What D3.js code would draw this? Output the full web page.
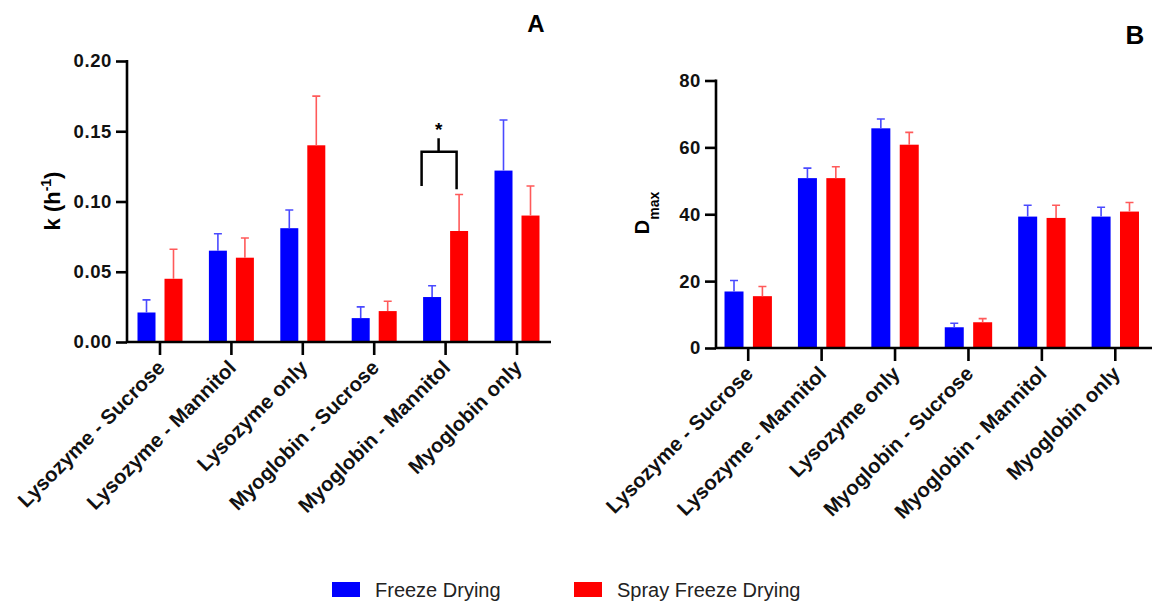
<!DOCTYPE html>
<html>
<head>
<meta charset="utf-8">
<script src="https://cdn.jsdelivr.net/npm/d3@7"></script>
<style>
    body { margin: 0; background: #fff; }
    text { font-family: "Liberation Sans", Arial, sans-serif; }
</style>
</head>
<body>
<div id="container"></div>
<script>
const categories = ["Lysozyme - Sucrose", "Lysozyme - Mannitol", "Lysozyme only",
    "Myoglobin - Sucrose", "Myoglobin - Mannitol", "Myoglobin only"];
const seriesNames = ["Freeze Drying", "Spray Freeze Drying"];
const seriesColors = ["#0000ff", "#ff0000"];
const errColors = ["#4a4aff", "#ff5a5a"];

// panel A: rate constant k (h-1)
const kFD = [0.021, 0.065, 0.081, 0.017, 0.032, 0.122];
const kFDerr = [0.009, 0.012, 0.013, 0.008, 0.008, 0.036];
const kSFD = [0.045, 0.060, 0.140, 0.022, 0.079, 0.090];
const kSFDerr = [0.021, 0.014, 0.035, 0.007, 0.026, 0.021];
const kTicks = [0, 0.05, 0.10, 0.15, 0.20];

// panel B: Dmax
const dFD = [16.9, 50.8, 65.7, 6.2, 39.3, 39.3];
const dFDerr = [3.3, 3.0, 2.8, 1.2, 3.4, 2.8];
const dSFD = [15.5, 50.8, 60.8, 7.7, 38.9, 40.8];
const dSFDerr = [2.9, 3.4, 3.7, 1.1, 3.8, 2.7];
const dTicks = [0, 20, 40, 60, 80];

// significance bracket on panel A
const sigGroup = "Myoglobin - Mannitol";
const sigLeft = 0.111, sigRight = 0.1087, sigTop = 0.1354, sigStem = 0.145;

function main() {
    const width = 1155, height = 607;
    const svg = d3.select("#container")
        .append("svg")
        .attr("width", width)
        .attr("height", height);
    svg.append("rect").attr("width", width).attr("height", height).attr("fill", "#fff");

    let xA = d3.scaleBand().domain(categories).range([124.3, 552.7]);
    let yA = d3.scaleLinear().domain([0, 0.2]).range([342, 61]);
    let gA = drawPanel(svg, xA, yA, [kFD, kSFD], [kFDerr, kSFDerr], kTicks, d3.format(".2f"), 127, 551, 13.5, 18);

    // y label A
    let la = gA.append("text")
        .attr("transform", "translate(60,201) rotate(-90)")
        .attr("text-anchor", "middle")
        .attr("font-size", 22)
        .attr("font-weight", "bold");
    la.append("tspan").text("k (h");
    la.append("tspan").attr("font-size", 14).attr("dy", -9).text("-1");
    la.append("tspan").attr("dy", 9).text(")");

    // significance bracket
    const cx = xA(sigGroup) + xA.bandwidth() / 2;
    gA.append("path")
        .attr("d", `M${cx - 24},${yA(sigLeft)}V${yA(sigTop)}H${cx + 11}V${yA(sigRight)}M${cx - 7},${yA(sigTop)}V${yA(sigStem)}`)
        .attr("fill", "none")
        .attr("stroke", "#000")
        .attr("stroke-width", 2.5);
    gA.append("text")
        .attr("x", cx - 7)
        .attr("y", yA(sigStem) - 2)
        .attr("text-anchor", "middle")
        .attr("font-size", 19)
        .attr("font-weight", "bold")
        .text("*");

    svg.append("text").attr("x", 536).attr("y", 32).attr("text-anchor", "middle")
        .attr("font-size", 24).attr("font-weight", "bold").text("A");

    let xB = d3.scaleBand().domain(categories).range([711.5, 1152]);
    let yB = d3.scaleLinear().domain([0, 80]).range([348, 80.5]);
    let gB = drawPanel(svg, xB, yB, [dFD, dSFD], [dFDerr, dSFDerr], dTicks, d3.format("d"), 716, 1152, 14.2, 19);

    let lb = gB.append("text")
        .attr("transform", "translate(649,213) rotate(-90)")
        .attr("text-anchor", "middle")
        .attr("font-size", 20)
        .attr("font-weight", "bold");
    lb.append("tspan").text("D");
    lb.append("tspan").attr("font-size", 14).attr("dy", 10).text("max");

    svg.append("text").attr("x", 1135).attr("y", 44).attr("text-anchor", "middle")
        .attr("font-size", 26).attr("font-weight", "bold").text("B");

    // legend
    const legendX = [332, 574];
    let lg = svg.append("g").attr("id", "legend");
    seriesNames.forEach((name, i) => {
        lg.append("rect")
            .attr("x", legendX[i])
            .attr("y", 582)
            .attr("width", 28)
            .attr("height", 15)
            .attr("fill", seriesColors[i]);
        lg.append("text")
            .attr("x", legendX[i] + 43)
            .attr("y", 597)
            .attr("font-size", 20)
            .attr("fill", "#222")
            .text(name);
    });
}

function drawPanel(svg, x, y, series, errs, ticks, fmt, x0, x1, offset, barW) {
    let g = svg.append("g");
    const y0 = y(0);
    const capW = 8;
    series.forEach((vals, s) => {
        const dx = s == 0 ? -offset : offset;
        let data = categories.map((c, i) => ({ c: c, v: vals[i], e: errs[s][i] }));
        let bars = g.append("g");
        bars.selectAll("rect")
            .data(data)
            .join("rect")
            .attr("x", d => x(d.c) + x.bandwidth() / 2 + dx - barW / 2)
            .attr("y", d => y(d.v))
            .attr("width", barW)
            .attr("height", d => y0 - y(d.v))
            .attr("fill", seriesColors[s]);
        bars.selectAll("path")
            .data(data)
            .join("path")
            .attr("d", d => {
                const cx = x(d.c) + x.bandwidth() / 2 + dx;
                return `M${cx},${y(d.v)}V${y(d.v + d.e)}M${cx - capW / 2},${y(d.v + d.e)}H${cx + capW / 2}`;
            })
            .attr("fill", "none")
            .attr("stroke", errColors[s])
            .attr("stroke-width", 1.6);
    });

    // axes
    let ya = g.append("g")
        .attr("transform", `translate(${x0},0)`)
        .call(d3.axisLeft(y).tickValues(ticks).tickFormat(fmt).tickSize(11).tickPadding(4));
    ya.select(".domain").attr("d", `M0,${y0 + 1}V${y(ticks[ticks.length - 1]) - 1}`);
    let xa = g.append("g")
        .attr("transform", `translate(0,${y0})`)
        .call(d3.axisBottom(x).tickSize(13).tickFormat(""));
    xa.select(".domain").attr("d", `M${x0 - 1},0H${x1}`);
    g.selectAll(".domain, .tick line").attr("stroke", "#000").attr("stroke-width", 2.6);
    ya.selectAll("text")
        .attr("font-size", 18.5)
        .attr("font-weight", "bold")
        .attr("font-family", "'Liberation Sans', Arial, sans-serif")
        .attr("letter-spacing", 0.6)
        .attr("fill", "#111");

    // rotated category labels
    g.append("g")
        .selectAll("text")
        .data(categories)
        .join("text")
        .attr("transform", d => `translate(${x(d) + x.bandwidth() / 2 + 6},${y0 + 27}) rotate(-45)`)
        .attr("text-anchor", "end")
        .attr("font-size", 20.5)
        .attr("font-weight", "bold")
        .attr("fill", "#111")
        .text(d => d);
    return g;
}

main();
</script>
</body>
</html>
